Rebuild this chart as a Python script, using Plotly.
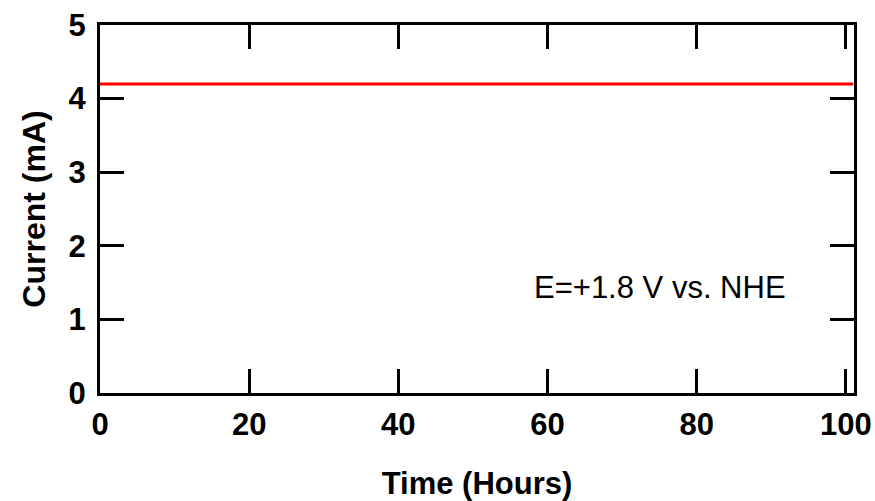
import plotly.graph_objects as go

# Data
time_hours = [0, 25, 50, 75, 101]
current_mA = [4.2, 4.2, 4.2, 4.2, 4.2]
x_ticks = [0, 20, 40, 60, 80, 100]
y_ticks = [0, 1, 2, 3, 4, 5]
annotation_text = "E=+1.8 V vs. NHE"

FONT = "Liberation Sans, Arial, Helvetica, sans-serif"

fig = go.Figure()
fig.add_trace(go.Scatter(
    x=time_hours, y=current_mA, mode="lines",
    line=dict(color="#ff0000", width=3), showlegend=False,
))

axis_common = dict(
    showline=True, linecolor="black", linewidth=3, mirror="ticks",
    ticks="inside", ticklen=24, tickwidth=3, tickcolor="black",
    showgrid=False, zeroline=False, automargin=False,
    tickfont=dict(family=FONT, size=31, color="black", weight="bold"),
)

fig.update_xaxes(
    range=[0, 101.1], tickvals=x_ticks, ticktext=[str(v) for v in x_ticks],
    title=dict(text="Time (Hours)", font=dict(family=FONT, size=31, color="black", weight="bold"), standoff=38),
    ticklabelstandoff=2,
    **axis_common,
)
fig.update_yaxes(
    range=[0, 5], tickvals=y_ticks, ticktext=[str(v) for v in y_ticks],
    title=dict(text="Current (mA)", font=dict(family=FONT, size=32, color="black", weight="bold"), standoff=14),
    ticklabelstandoff=5,
    **axis_common,
)

fig.add_annotation(
    x=75.1, y=1.43, xref="x", yref="y", text=annotation_text, showarrow=False,
    font=dict(family=FONT, size=31, color="black"),
)

fig.update_layout(
    width=875, height=501,
    margin=dict(l=100, r=21, t=25, b=108),
    plot_bgcolor="white", paper_bgcolor="white",
)

fig.write_html("out.html")
